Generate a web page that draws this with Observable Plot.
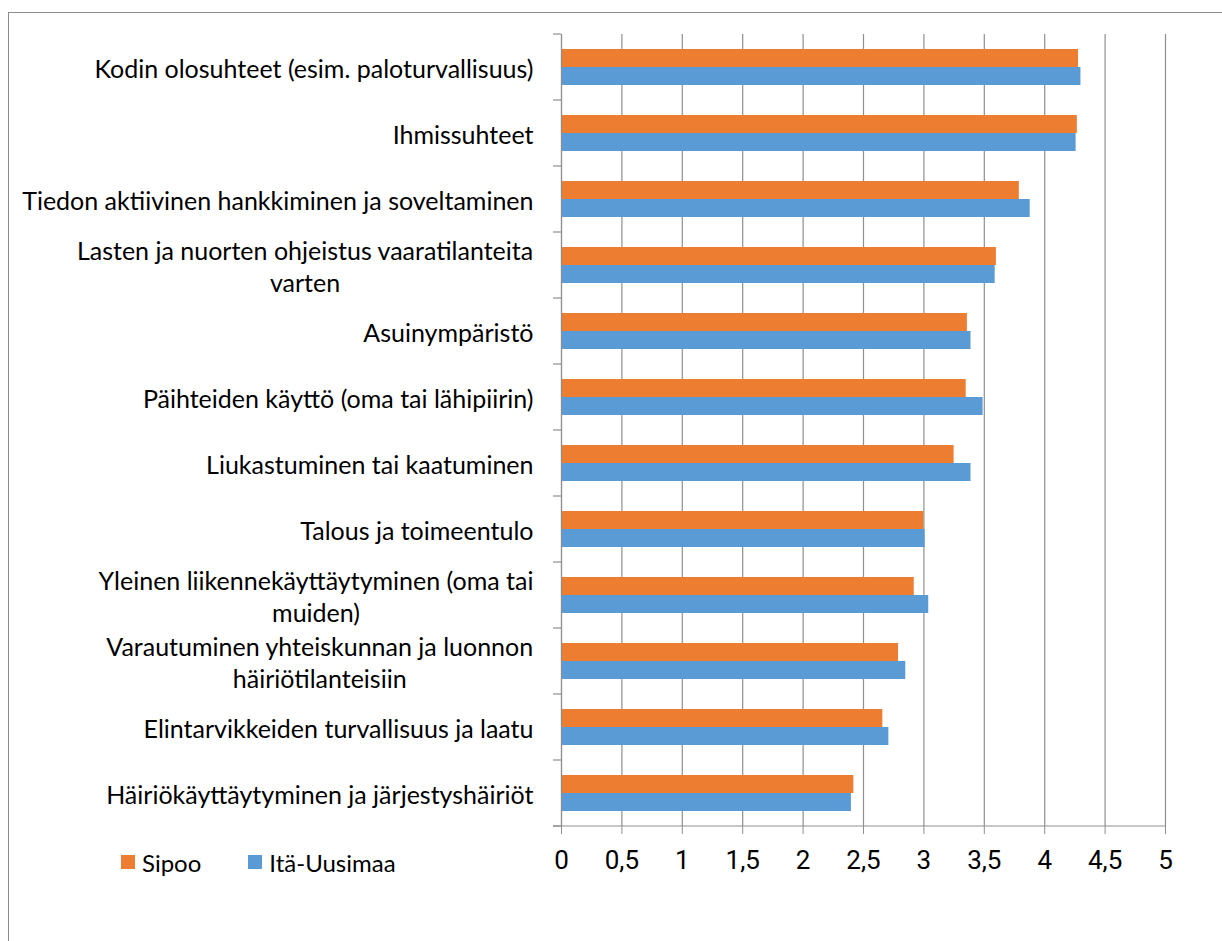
<!DOCTYPE html>
<html>
<head>
<meta charset="utf-8">
<script src="https://cdn.jsdelivr.net/npm/d3@7"></script>
<script src="https://cdn.jsdelivr.net/npm/@observablehq/plot@0.6"></script>
<style>
  html, body { margin: 0; padding: 0; background: #fff; }
  #wrap { position: relative; width: 1222px; height: 941px; overflow: hidden; }
  #frame { position: absolute; left: 8px; top: 12px; width: 1300px; height: 1000px;
           border-top: 1.5px solid #8c8c8c; border-left: 1.5px solid #8c8c8c; box-sizing: border-box; }
  #chart { position: absolute; left: 0; top: 0; }
  #legend { position: absolute; left: 121px; top: 846px; font-family: Lato, sans-serif; font-size: 24px;
            color: #000; display: flex; align-items: center; height: 32px; }
  .sw { display: inline-block; width: 14px; height: 14px; margin-right: 7px; }
  .item { display: flex; align-items: center; }
</style>
</head>
<body>
<div id="wrap">
  <div id="frame"></div>
  <div id="chart"></div>
  <div id="legend"></div>
</div>
<script>
// ---- data ----
const categories = [
  "Kodin olosuhteet (esim. paloturvallisuus)",
  "Ihmissuhteet",
  "Tiedon aktiivinen hankkiminen ja soveltaminen",
  "Lasten ja nuorten ohjeistus vaaratilanteita\nvarten",
  "Asuinympäristö",
  "Päihteiden käyttö (oma tai lähipiirin)",
  "Liukastuminen tai kaatuminen",
  "Talous ja toimeentulo",
  "Yleinen liikennekäyttäytyminen (oma tai\nmuiden)",
  "Varautuminen yhteiskunnan ja luonnon\nhäiriötilanteisiin",
  "Elintarvikkeiden turvallisuus ja laatu",
  "Häiriökäyttäytyminen ja järjestyshäiriöt"
];
const series = ["Sipoo", "Itä-Uusimaa"];
const sipoo      = [4.28, 4.27, 3.79, 3.60, 3.36, 3.35, 3.25, 3.00, 2.92, 2.79, 2.66, 2.42];
const itaUusimaa = [4.30, 4.26, 3.88, 3.59, 3.39, 3.49, 3.39, 3.01, 3.04, 2.85, 2.71, 2.40];
const xTicks = [0, 0.5, 1, 1.5, 2, 2.5, 3, 3.5, 4, 4.5, 5];
const colors = ["#ED7D31", "#5B9BD5"];

// ---- table for the library ----
const rows = [];
categories.forEach((c, i) => {
  rows.push({category: c, series: series[0], value: sipoo[i]});
  rows.push({category: c, series: series[1], value: itaUusimaa[i]});
});

const labelFont = "Lato, sans-serif";
const labelSize = 25;
const ctx = document.createElement("canvas").getContext("2d");
ctx.font = `${labelSize}px Lato`;
const labelGap = -28;

const labelMarks = categories.map(c => {
  const first = c.split("\n")[0];
  const w = ctx.measureText(first).width;
  return Plot.text([c], {
    fy: d => d, text: d => d, frameAnchor: "left", textAnchor: "middle",
    dx: labelGap - w / 2, fontSize: labelSize, fontFamily: labelFont, fill: "#000",
    lineHeight: 1.28
  });
});

const grid = "#8f8f8f";
const chart = Plot.plot({
  width: 1222, height: 941,
  marginLeft: 561, marginRight: 57, marginTop: 32, marginBottom: 113,
  style: {background: "transparent", overflow: "visible"},
  x: {domain: [0, 5], ticks: xTicks, label: null},
  y: {domain: series, paddingInner: 0, paddingOuter: 0.764, axis: null},
  fy: {domain: categories, padding: 0, axis: null},
  color: {domain: series, range: colors},
  marks: [
    Plot.gridX(xTicks, {stroke: grid, strokeOpacity: 1, strokeWidth: 1.2}),
    Plot.barX(rows, {x: "value", y: "series", fy: "category", fill: "series"}),
    Plot.ruleX([0], {stroke: grid, strokeWidth: 1.2}),
    Plot.axisX(xTicks, {
      anchor: "bottom", tickSize: 8, tickPadding: 16, stroke: grid, label: null,
      tickFormat: d => String(d).replace(".", ","),
      fontSize: 26, fontFamily: "Roboto", fill: "#000"
    }),
    ...labelMarks
  ]
});
document.getElementById("chart").appendChild(chart);

// axis line and category boundary ticks through the plot's own scales
const fy = chart.scale("fy");
const xs = chart.scale("x");
const svg = d3.select(chart);
const x0 = xs.apply(0), x5 = xs.apply(5);
const bounds = categories.map(c => fy.apply(c));
const bottom = fy.apply(categories[categories.length - 1]) + fy.bandwidth;
bounds.push(bottom);
const g = svg.append("g").attr("stroke", grid).attr("stroke-width", 1.2);
g.append("line").attr("x1", x0 - 8).attr("x2", x5).attr("y1", bottom).attr("y2", bottom);
bounds.forEach(y => g.append("line").attr("x1", x0 - 8).attr("x2", x0).attr("y1", y).attr("y2", y));

// legend
const legend = document.getElementById("legend");
series.forEach((s, i) => {
  const item = document.createElement("div");
  item.className = "item";
  item.style.marginRight = i === 0 ? "47px" : "0";
  const sw = document.createElement("span");
  sw.className = "sw"; sw.style.background = colors[i];
  item.appendChild(sw);
  item.appendChild(document.createTextNode(s));
  legend.appendChild(item);
});
</script>
</body>
</html>
